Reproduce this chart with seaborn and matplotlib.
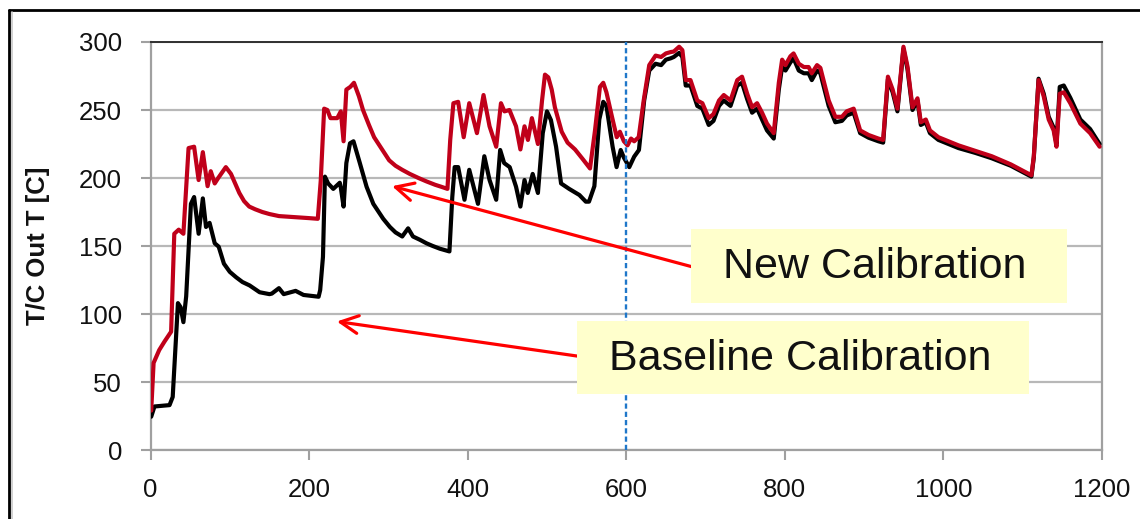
import matplotlib
matplotlib.use("Agg")
import matplotlib.pyplot as plt
import seaborn as sns
import pandas as pd
from matplotlib.lines import Line2D
from matplotlib.patches import Rectangle

# ---------------- data ----------------
new_x = [0.9, 3.9, 11, 17.6, 26, 30, 35.6, 41.5, 48, 55, 60.7, 66, 72, 76, 81, 85.4, 95, 101.5, 106,
         112, 118, 124.5, 132, 141, 150, 162, 175, 187, 200, 211, 214.7, 219, 223, 227, 235.5, 240,
         243.5, 247, 252, 256.6, 262.9, 268, 275.5, 282, 292, 301, 309, 317.5, 327, 338, 348, 359,
         367, 374.5, 378, 382, 388, 395, 402, 411.7, 420, 427.6, 436,
         442, 446.4, 452.7, 461, 466.5, 471.7, 476, 481, 488.6, 493.8, 497.5, 501.7, 506, 510, 518.6,
         526, 535.4, 545, 554.3, 560.6, 566.8, 571, 575, 582, 588, 592, 597, 601.6, 606, 610, 615.7,
         622, 629, 637, 644, 650,
         656, 660, 666.7, 670.8, 675, 681, 689.6, 696, 704, 710, 717, 723, 731.5, 740, 746, 752.5,
         758.7, 765, 771.3, 777.5, 786, 792.4, 796.6, 800.8, 807, 811, 817.6, 824, 830, 834, 840.6,
         844.8, 855.3, 863.7, 872, 878, 886.8, 895, 905.7, 918, 924, 930, 936, 942, 949.6, 954.7,
         961, 967.3, 971.5, 977.8, 983, 993.7, 1019, 1040, 1061, 1085, 1111, 1114, 1120, 1126.5,
         1132.8, 1139, 1142.6, 1146.7, 1151.8, 1160, 1172.7, 1185, 1197]
new_y = [29, 64, 73.5, 79.7, 87, 159, 162, 159, 222, 223, 198.5, 219, 194, 205, 196, 200, 208, 203, 197,
         189, 183, 179, 177, 175, 173.5, 172, 171.5, 171, 170.5, 170, 198, 251, 250, 244, 244, 249,
         227, 265, 267, 270, 260, 250, 239, 230, 221, 213, 209, 206, 203, 200, 197.5, 195,
         193.5, 192, 228, 255, 256, 230, 255, 233, 261, 238, 223,
         255, 249, 250, 238, 221, 238, 228, 244, 225, 257, 276, 274, 265, 252, 234,
         226, 221, 214, 207, 235, 267, 270, 263, 245, 230, 234, 227, 224, 229, 227, 230,
         257, 283, 290, 289, 291.6,
         292.6, 293, 296.5, 294, 272, 272, 257, 255, 244, 247, 257, 261, 257, 272, 274.5, 262,
         252, 255, 248, 240, 233, 270, 287, 283, 289.5, 291.6, 284, 281.6, 281.6, 277, 283,
         281, 257, 245, 245, 249, 251, 235, 231.6, 229, 228, 274.5, 265, 251, 296.5, 282,
         252, 258.6, 241, 243, 235, 230, 224, 220, 216, 210, 202, 216, 272, 260,
         243, 235, 223, 262, 263, 255, 240, 233, 223]

base_x = [0.9, 5, 24, 28, 34.6, 38, 41.5, 45, 51, 55, 60.7, 66, 70, 74.5, 81, 86, 92.6, 100, 108, 116,
          125, 137.6, 150, 153, 162, 168, 183, 193, 212, 214, 217.5, 220, 224, 230.5, 238.7, 240,
          243.5, 247, 251.6, 256, 264, 272.5, 281, 293.5, 301.9, 309, 317.5, 324.9, 331, 340, 348,
          356, 365, 377, 380.6,
          383.6, 388, 396, 402, 413, 421, 427.6, 436, 441, 446, 453, 461, 466.5, 471.7, 475.8, 482,
          488.6, 494.7, 500, 505, 511.5, 517.8, 528, 540.9, 549, 553, 559.8, 566, 571, 575, 582.8,
          587.8, 593, 597, 603.8, 610, 616, 622.6, 629, 637, 644, 650, 656, 660, 666.7, 670.8, 675,
          681,
          689.6, 696, 704, 710, 717, 723, 731.5, 740, 746, 752.5, 758.7, 765, 771.3, 777.5, 786,
          792.4, 796.6, 800.8, 807, 811, 817.6, 824, 830, 834, 840.6, 844.8, 855.3, 863.7, 872, 878,
          886.8, 895, 905.7, 918, 924, 930, 936, 942, 949.6, 954.7, 961, 967.3, 971.5, 977.8, 983,
          993.7, 1019, 1040, 1061, 1085, 1111, 1114, 1120, 1126.5, 1132.8, 1139, 1142.6, 1146.7,
          1151.8, 1160, 1172.7, 1185, 1197]
base_y = [24.5, 32, 33, 39, 108, 105, 94, 113, 181, 186, 159, 185, 164, 167, 152, 149.5, 137, 131, 127,
          123.5, 121, 116, 114.6, 115, 119, 114.6, 117, 114, 112.7, 117.6, 142, 201, 196, 192, 196.5,
          193, 179, 211, 225.5, 227, 211, 193.6, 181, 170, 164, 160, 157, 163, 157, 154.5, 152,
          150, 148, 146, 186,
          208, 208, 184, 206, 181, 216, 198.5, 184, 220.6, 211, 208, 193.6, 179, 198.5, 189, 203,
          189, 233, 249, 242.6, 223, 196, 192, 187.5, 182.6, 182.6, 194, 243, 256, 253, 223,
          208, 220.6, 215, 208, 215.7, 220.6, 257, 279, 284, 283, 287, 288, 289, 292, 289, 268,
          268,
          253, 251, 239, 242, 253, 257, 253, 268, 270, 258, 248, 251, 243, 235, 229,
          265, 282, 279, 285, 288, 279, 277, 277, 272, 279, 277, 253, 241, 242, 246,
          248, 233, 229.6, 227, 226, 272.5, 263, 249, 295, 280, 250, 257, 239, 241, 233,
          228, 222, 218.5, 214.5, 209, 201, 215, 273, 262, 245, 237, 225, 267,
          268, 259, 243, 236, 225]

x_ticks = [0, 200, 400, 600, 800, 1000, 1200]
y_ticks = [0, 50, 100, 150, 200, 250, 300]
y_label = "T/C Out T [C]"
label_new = "New Calibration"
label_base = "Baseline Calibration"

# ---------------- style ----------------
sns.set_style("white")
plt.rcParams["font.family"] = ["Liberation Sans", "DejaVu Sans"]

fig = plt.figure(figsize=(11.4, 5.19), dpi=100)
ax = fig.add_axes([150.5 / 1140, 1 - 450 / 519, (1102 - 150.5) / 1140, (450 - 42) / 519])

df_base = pd.DataFrame({"x": base_x, "y": base_y})
df_new = pd.DataFrame({"x": new_x, "y": new_y})

sns.lineplot(data=df_base, x="x", y="y", ax=ax, color="#000000", lw=3.0, sort=False,
             estimator=None, zorder=3)
sns.lineplot(data=df_new, x="x", y="y", ax=ax, color="#C0001A", lw=3.0, sort=False,
             estimator=None, zorder=4)

ax.axvline(600, color="#1F77C9", lw=1.7, ls=(0, (2.2, 1.3)), zorder=5)

ax.set_xlim(0, 1200)
ax.set_ylim(0, 300)
ax.set_xticks(x_ticks)
ax.set_yticks(y_ticks)
ax.set_xticklabels([str(v) for v in x_ticks])
ax.set_yticklabels([str(v) for v in y_ticks])
ax.set_xlabel("")
ax.set_ylabel(y_label, fontsize=18.5, fontweight="bold", color="#111111")
ax.yaxis.set_label_coords(-0.1056, 0.5)

ax.grid(axis="y", color="#b8b8b8", lw=1.6, zorder=0)
ax.grid(axis="x", visible=False)
ax.set_axisbelow(True)

for side in ["left", "right", "bottom"]:
    ax.spines[side].set_color("#a0a0a0")
    ax.spines[side].set_linewidth(1.6)
ax.spines["top"].set_color("#303030")
ax.spines["top"].set_linewidth(1.4)

ax.tick_params(axis="both", which="major", direction="out", length=7.5, width=1.5,
               color="#a0a0a0", labelsize=18.5, labelcolor="#111111")
ax.tick_params(axis="y", pad=13, left=True)
ax.tick_params(axis="x", pad=13, bottom=True)

# arrows
arrow_kw = dict(arrowstyle="->", color="#FF0000", lw=2.3, mutation_scale=32,
                shrinkA=0, shrinkB=0)
ax.annotate("", xy=(304.6, 194.0), xytext=(682.5, 134.8), arrowprops=arrow_kw, zorder=6)
ax.annotate("", xy=(235.0, 94.5), xytext=(539.0, 69.0), arrowprops=arrow_kw, zorder=6)

# annotation boxes
box_color = "#FFFFCC"
ax.add_patch(Rectangle((681.7, 108.0), 1155.9 - 681.7, 162.5 - 108.0, facecolor=box_color,
                       edgecolor="none", zorder=7, clip_on=False))
ax.add_patch(Rectangle((537.9, 41.2), 1108.0 - 537.9, 94.9 - 41.2, facecolor=box_color,
                       edgecolor="none", zorder=7, clip_on=False))
ax.text(913.9, 134.2, label_new, ha="center", va="center", fontsize=31, color="#111111", zorder=8)
ax.text(818.8, 67.0, label_base, ha="center", va="center", fontsize=31, color="#111111", zorder=8)

# figure frame (left and top edges)
fig.add_artist(Line2D([9 / 1140, 9 / 1140], [0, 1 - 10 / 519], color="#000000", lw=2.0,
                      transform=fig.transFigure))
fig.add_artist(Line2D([9 / 1140, 1], [1 - 10 / 519, 1 - 10 / 519], color="#000000", lw=2.0,
                      transform=fig.transFigure))
fig.add_artist(Line2D([11.5 / 1140, 11.5 / 1140], [0, 1 - 12 / 519], color="#c8c8c8", lw=1.2,
                      transform=fig.transFigure))

fig.savefig("out.png", dpi=100)
